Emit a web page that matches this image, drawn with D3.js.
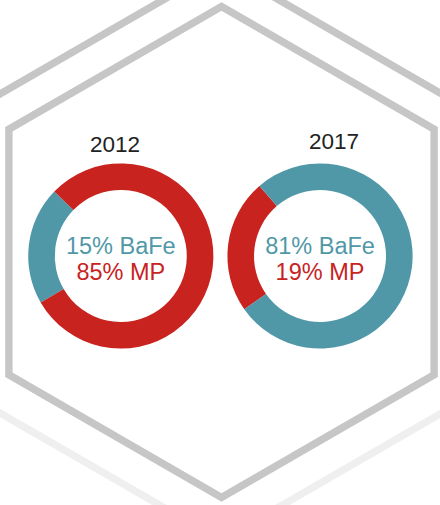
<!DOCTYPE html>
<html>
<head>
<meta charset="utf-8">
<script src="https://cdn.jsdelivr.net/npm/d3@7"></script>
<style>
    body { margin: 0; background: #fff; }
    svg { display: block; }
    text { font-family: "Liberation Sans", Arial, Helvetica, sans-serif; }
</style>
</head>
<body>
<div id="chart"></div>
<script>
// data
const years = ["2012", "2017"];
const series = ["BaFe", "MP"];
// share of the ring each colour takes, as drawn
const bafeDrawn = [20.6, 76.6];
const mpDrawn = [79.4, 23.4];
// percentages printed in the middle
const bafeLabel = [15, 81];
const mpLabel = [85, 19];

const width = 440;
const height = 505;
const color = d3.scaleOrdinal().domain(series).range(["#5098a8", "#c8231f"]);

const svg = d3.select("#chart")
    .append("svg")
    .attr("width", width)
    .attr("height", height);

//gradient for the big hexagon behind
const grad = svg.append("defs").append("linearGradient")
    .attr("id", "fade")
    .attr("gradientUnits", "userSpaceOnUse")
    .attr("x1", 0).attr("y1", 100)
    .attr("x2", 0).attr("y2", 410);
grad.append("stop").attr("offset", 0).attr("stop-color", "#c6c6c6");
grad.append("stop").attr("offset", 1).attr("stop-color", "#efefef");

//hexagons
function hexPoints(cx, cy, r) {
    return d3.range(6).map(i => {
        const a = Math.PI / 3 * i - Math.PI / 2;
        return [cx + r * Math.cos(a), cy + r * Math.sin(a)];
    });
}
const hexLine = d3.line().curve(d3.curveLinearClosed);

svg.append("path")
    .attr("d", hexLine(hexPoints(221, 253.5, 287)))
    .attr("fill", "none")
    .attr("stroke", "url(#fade)")
    .attr("stroke-width", 7.4);

svg.append("path")
    .attr("d", hexLine(hexPoints(221.5, 252, 245.5)))
    .attr("fill", "none")
    .attr("stroke", "#c6c6c6")
    .attr("stroke-width", 7.4);

//donuts
const x = d3.scalePoint().domain(years).range([120.8, 320]);
const cy = 256;
const yearX = d3.scaleOrdinal().domain(years).range([115, 334]);
const yearY = d3.scaleOrdinal().domain(years).range([151.5, 149]);

const arc = d3.arc().innerRadius(66).outerRadius(92.6);
const mid = 277 * Math.PI / 180; // small slice sits centred here

years.forEach((year, i) => {
    const parts = [
        { key: "BaFe", value: bafeDrawn[i] },
        { key: "MP", value: mpDrawn[i] }
    ];
    const small = parts[0].value < parts[1].value ? parts[0] : parts[1];
    const big = small === parts[0] ? parts[1] : parts[0];
    const start = mid - small.value / 100 * Math.PI;

    const pie = d3.pie()
        .sort(null)
        .value(d => d.value)
        .startAngle(start)
        .endAngle(start + 2 * Math.PI);

    const g = svg.append("g")
        .attr("class", "donut")
        .attr("transform", `translate(${x(year)},${cy})`);

    g.selectAll("path")
        .data(pie([small, big]))
        .join("path")
        .attr("d", arc)
        .attr("fill", d => color(d.data.key));

    g.append("text")
        .attr("text-anchor", "middle")
        .attr("y", -2)
        .attr("font-size", 23.5)
        .attr("fill", color("BaFe"))
        .text(`${bafeLabel[i]}% BaFe`);

    g.append("text")
        .attr("text-anchor", "middle")
        .attr("y", 23.5)
        .attr("font-size", 23.5)
        .attr("fill", color("MP"))
        .text(`${mpLabel[i]}% MP`);

    svg.append("text")
        .attr("x", yearX(year))
        .attr("y", yearY(year))
        .attr("text-anchor", "middle")
        .attr("font-size", 22.5)
        .attr("fill", "#222")
        .text(year);
});
</script>
</body>
</html>
